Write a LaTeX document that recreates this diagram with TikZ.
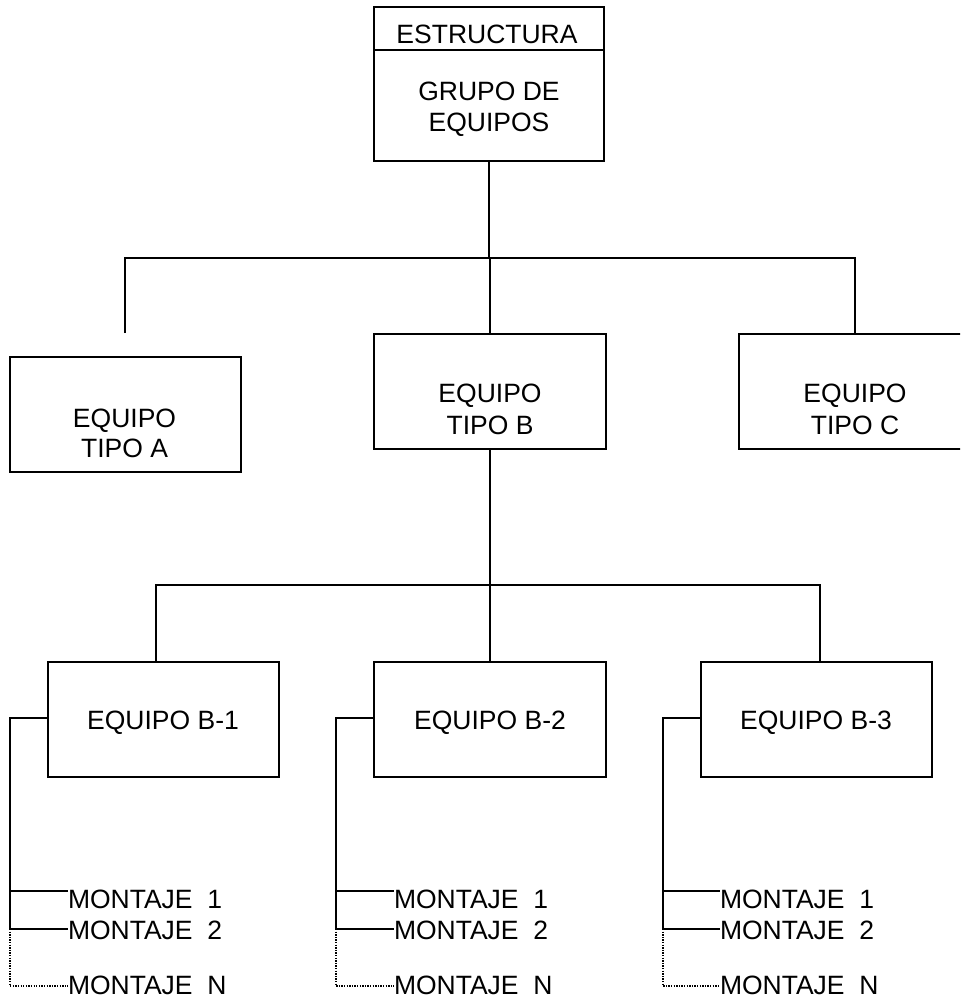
\documentclass[tikz,border=0pt]{standalone}
\usepackage{fontspec}
\setmainfont{Liberation Sans}
\begin{document}
\begin{tikzpicture}[x=1pt,y=-1pt,
  every node/.style={inner sep=0pt, outer sep=0pt},
  box/.style={draw, line width=2pt, rectangle, minimum width=#1, minimum height=115pt},
  lbl/.style={anchor=base, font=\fontsize{26.5}{30}\selectfont},
  mlbl/.style={anchor=base west, font=\fontsize{26.5}{30}\selectfont},
  link/.style={line width=2pt},
  dotlink/.style={line width=1.3pt, dash pattern=on 1.3pt off 1.3pt}]
\useasboundingbox (0,0) rectangle (960,1000);
\clip (0,0) rectangle (960,1000);

% top box with its header strip
\node[box=230pt, minimum height=154pt] (top) at (489,84) {};
\draw[link] (top.west |- 0,50) -- (top.east |- 0,50);
\node[lbl] (tTitle) at (487,44) {ESTRUCTURA};
\node[lbl] (tTop1) at (489,101) {GRUPO DE};
\node[lbl] (tTop2) at (489,132) {EQUIPOS};

% first level
\node[box=231pt] (A) at (125.5,414.5) {};
\node[lbl] (tA1) at (124.5,427) {EQUIPO};
\node[lbl] (tA2) at (124.5,457) {TIPO A};
\node[box=232pt] (B) at (490,391.5) {};
\node[lbl] (tB1) at (490,402) {EQUIPO};
\node[lbl] (tB2) at (490,434) {TIPO B};
\node[box=232pt] (C) at (855,391.5) {};
\node[lbl] (tC1) at (855,402) {EQUIPO};
\node[lbl] (tC2) at (855,434) {TIPO C};

% second level
\node[box=231pt] (B1) at (163.5,719.5) {};
\node[lbl] (tB1a) at (163,729) {EQUIPO B-1};
\node[box=232pt] (B2) at (490,719.5) {};
\node[lbl] (tB2a) at (490,729) {EQUIPO B-2};
\node[box=231pt] (B3) at (816.5,719.5) {};
\node[lbl] (tB3a) at (816,729) {EQUIPO B-3};

% tree from the top box
\coordinate (hubL) at (125,258);
\coordinate (hubR) at (855,258);
\coordinate (dropA) at (125,333);
\draw[link] (top.south) -- (top.south |- hubL);
\draw[link] (dropA) -- (hubL) -- (hubR) -- (C.north);
\draw[link] (B.north) -- (B.north |- hubL);

% tree from B
\coordinate (hub2L) at (156,585);
\coordinate (hub2R) at (820,585);
\draw[link] (B.south) -- (B.south |- hub2L);
\draw[link] (B1.north -| hub2L) -- (hub2L) -- (hub2R) -- (B3.north -| hub2R);
\draw[link] (B2.north) -- (B2.north |- hub2L);

% assembly lists
\foreach \bx/\sx/\ex in {B1/10/68, B2/336/394, B3/663/720}{
  \coordinate (\bx s) at (\sx,718);
  \coordinate (\bx m1) at (\sx,891);
  \coordinate (\bx m2) at (\sx,929);
  \coordinate (\bx mn) at (\sx,986);
  \node[mlbl] (\bx t1) at (\ex,908) {MONTAJE\ \ 1};
  \node[mlbl] (\bx t2) at (\ex,939) {MONTAJE\ \ 2};
  \node[mlbl] (\bx tn) at (\ex,994) {MONTAJE\ \ N};
  \draw[link] (\bx.west |- \bx s) -- (\bx s) -- (\bx m2) -- (\ex,929);
  \draw[link] (\bx m1) -- (\ex,891);
  \draw[dotlink] (\bx m2) -- (\bx mn) -- (\ex,986);
}
\end{tikzpicture}
\end{document}
